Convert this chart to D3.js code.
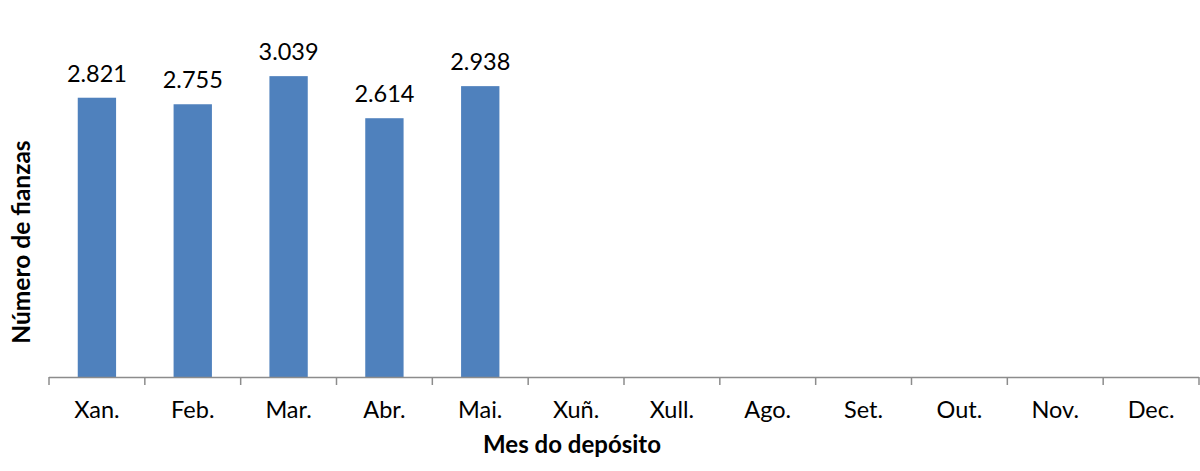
<!DOCTYPE html>
<html>
<head>
<meta charset="utf-8">
<script src="https://cdn.jsdelivr.net/npm/d3@7"></script>
<style>
  html, body { margin: 0; padding: 0; background: #fff; }
  svg { display: block; }
  text { font-family: Lato, "Open Sans", sans-serif; fill: #000; }
</style>
</head>
<body>
<svg id="chart" width="1200" height="471"></svg>
<script>
const months = ["Xan.", "Feb.", "Mar.", "Abr.", "Mai.", "Xuñ.", "Xull.", "Ago.", "Set.", "Out.", "Nov.", "Dec."];
const values = [2.821, 2.755, 3.039, 2.614, 2.938, null, null, null, null, null, null, null];
const valueLabels = ["2.821", "2.755", "3.039", "2.614", "2.938", "", "", "", "", "", "", ""];
const yDomain = [0, 3.5];
const xTitle = "Mes do depósito";
const yTitle = "Número de fianzas";

const svg = d3.select("#chart");
const margin = { left: 49, right: 1, top: 30.5, bottom: 94 };
const W = 1200, H = 471;
const plotBottom = 377;

const x = d3.scaleBand().domain(months).range([margin.left, W - margin.right]).paddingInner(0.6).paddingOuter(0.3);
const xb = d3.scaleBand().domain(months).range([margin.left, W - margin.right]);
const y = d3.scaleLinear().domain(yDomain).range([plotBottom, margin.top]);

const data = months.map((m, i) => ({ m, v: values[i], label: valueLabels[i] })).filter(d => d.v != null);

svg.append("g").selectAll("rect").data(data).join("rect")
  .attr("x", d => x(d.m))
  .attr("y", d => y(d.v))
  .attr("width", x.bandwidth())
  .attr("height", d => y(0) - y(d.v))
  .attr("fill", "#4F81BD");

svg.append("g").selectAll("text").data(data).join("text")
  .attr("x", d => x(d.m) + x.bandwidth() / 2)
  .attr("y", d => y(d.v) - 16)
  .attr("text-anchor", "middle")
  .attr("font-size", 23.5)
  .text(d => d.label);

// x axis
const axisG = svg.append("g");
axisG.append("line")
  .attr("x1", margin.left).attr("x2", W - margin.right)
  .attr("y1", plotBottom + 0.5).attr("y2", plotBottom + 0.5)
  .attr("stroke", "#8c8c8c").attr("stroke-width", 1.5);
const tickPos = months.map(m => xb(m)).concat([xb(months[months.length - 1]) + xb.bandwidth()]);
axisG.selectAll("line.tick").data(tickPos).join("line")
  .attr("class", "tick")
  .attr("x1", d => d).attr("x2", d => d)
  .attr("y1", plotBottom).attr("y2", plotBottom + 8)
  .attr("stroke", "#8c8c8c").attr("stroke-width", 1.5);
axisG.selectAll("text").data(months).join("text")
  .attr("x", d => xb(d) + xb.bandwidth() / 2)
  .attr("y", 418)
  .attr("text-anchor", "middle")
  .attr("font-size", 23.5)
  .text(d => d);

svg.append("text")
  .attr("x", 572).attr("y", 453)
  .attr("text-anchor", "middle")
  .attr("font-size", 24)
  .attr("font-weight", "bold")
  .text(xTitle);

svg.append("text")
  .attr("transform", "translate(30,242) rotate(-90)")
  .attr("text-anchor", "middle")
  .attr("font-size", 24.5)
  .attr("font-weight", "bold")
  .text(yTitle);
</script>
</body>
</html>
